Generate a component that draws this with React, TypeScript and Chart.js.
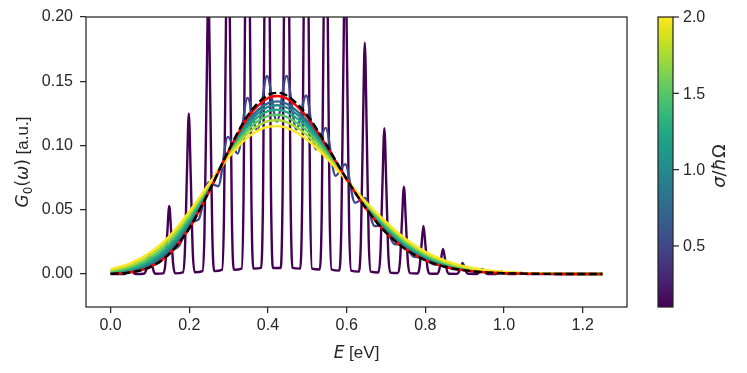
import React, { useEffect, useRef } from "react";
import { Chart, registerables } from "chart.js";

Chart.register(...registerables);

const FONT = '"Liberation Sans", Arial, "DejaVu Sans", sans-serif';
const MATH = '"DejaVu Sans", "Liberation Sans", sans-serif';
const INK = "#262626";

// sigma / (hbar Omega) of each spectrum, and colour bar range
const sigmaValues = [0.1, 0.5, 0.75, 1.0, 1.25, 1.5, 1.75, 2.0];
const sigmaRange = [0.1, 2.0];
const colorbarTicks = [0.5, 1.0, 1.5, 2.0];
const xTicks = [0, 0.2, 0.4, 0.6, 0.8, 1.0, 1.2];
const yTicks = [0, 0.05, 0.1, 0.15, 0.2];

// energy grid (eV) for the smooth curves
const energyGrid = [0, 0.05, 0.1, 0.15, 0.2, 0.25, 0.3, 0.35, 0.4, 0.425, 0.45, 0.5, 0.55, 0.6, 0.65, 0.7, 0.75, 0.8, 0.85, 0.9, 0.95, 1.0, 1.05, 1.1, 1.15, 1.2, 1.25];

// black dashed envelope
const envelopeDashed = [0.0001, 0.0012, 0.0053, 0.0158, 0.0356, 0.0641, 0.0963, 0.124, 0.1393, 0.141, 0.1385, 0.1234, 0.0998, 0.0738, 0.0506, 0.0322, 0.0192, 0.0107, 0.0056, 0.0028, 0.0013, 0.0006, 0.0003, 0.0001, 0, 0, 0];
// red envelope
const envelopeRed = [0.0001, 0.0012, 0.0053, 0.0158, 0.0356, 0.0639, 0.0956, 0.1224, 0.137, 0.1385, 0.1362, 0.1219, 0.099, 0.0736, 0.0506, 0.0322, 0.0192, 0.0107, 0.0056, 0.0028, 0.0013, 0.0006, 0.0003, 0.0001, 0, 0, 0];

// smooth broadened spectra on energyGrid
const g075 = [0.0004, 0.0021, 0.0072, 0.0186, 0.0383, 0.0655, 0.0951, 0.1197, 0.133, 0.1343, 0.1321, 0.1188, 0.0976, 0.0737, 0.0517, 0.0337, 0.0206, 0.0118, 0.0064, 0.0032, 0.0016, 0.0007, 0.0003, 0.0001, 0.0001, 0, 0];
const g100 = [0.0007, 0.0028, 0.0085, 0.0203, 0.04, 0.0664, 0.0947, 0.1178, 0.1301, 0.1313, 0.1292, 0.1166, 0.0966, 0.0737, 0.0524, 0.0348, 0.0216, 0.0126, 0.0069, 0.0036, 0.0018, 0.0008, 0.0003, 0.0001, 0.0001, 0, 0];
const g125 = [0.0011, 0.0038, 0.0102, 0.0223, 0.0419, 0.0675, 0.0941, 0.1155, 0.1268, 0.1278, 0.1257, 0.1141, 0.0952, 0.0737, 0.0532, 0.0362, 0.0229, 0.0136, 0.0076, 0.004, 0.002, 0.0009, 0.0004, 0.0002, 0.0001, 0, 0];
const g150 = [0.0017, 0.0051, 0.0122, 0.0247, 0.0441, 0.0685, 0.0932, 0.1128, 0.123, 0.1239, 0.1219, 0.1111, 0.0937, 0.0735, 0.0541, 0.0376, 0.0243, 0.0147, 0.0084, 0.0045, 0.0023, 0.0011, 0.0005, 0.0002, 0.0001, 0, 0];
const g175 = [0.0026, 0.0065, 0.0143, 0.0271, 0.0463, 0.0694, 0.0922, 0.1098, 0.1189, 0.1196, 0.1178, 0.1079, 0.0918, 0.0732, 0.055, 0.039, 0.0259, 0.0159, 0.0093, 0.0051, 0.0026, 0.0013, 0.0006, 0.0003, 0.0001, 0, 0];
const g200 = [0.0037, 0.0083, 0.0166, 0.0295, 0.0485, 0.07, 0.0908, 0.1067, 0.1146, 0.1151, 0.1135, 0.1045, 0.0899, 0.0727, 0.0556, 0.0405, 0.0272, 0.0172, 0.0104, 0.0059, 0.0032, 0.0016, 0.0007, 0.0003, 0.0001, 0, 0];

// sigma = 0.5: rippled spectrum (peaks and troughs)
const rippleEnergies = [0, 0.0249, 0.0497, 0.0746, 0.0994, 0.1243, 0.1491, 0.174, 0.1988, 0.2237, 0.2485, 0.2734, 0.2982, 0.3231, 0.3479, 0.3728, 0.3976, 0.4225, 0.4473, 0.4722, 0.497, 0.5219, 0.5467, 0.5716, 0.5964, 0.6213, 0.6461, 0.671, 0.6958, 0.7207, 0.7455, 0.7704, 0.7952, 0.8201, 0.8449, 0.8698, 0.8946, 0.9195, 0.9443, 0.9692, 0.994, 1.0189, 1.0437, 1.0686, 1.0934, 1.1183, 1.1431, 1.168, 1.1928, 1.2177, 1.2425, 1.25];
const rippleValues = [0.0002, 0.0006, 0.0014, 0.0028, 0.0061, 0.009, 0.0179, 0.0219, 0.0398, 0.0425, 0.0713, 0.0683, 0.1067, 0.0937, 0.137, 0.112, 0.1541, 0.1186, 0.1542, 0.1126, 0.1389, 0.097, 0.1137, 0.0764, 0.0854, 0.0554, 0.0592, 0.0373, 0.0382, 0.0233, 0.0229, 0.0136, 0.0129, 0.0075, 0.0069, 0.0039, 0.0034, 0.0019, 0.0016, 0.0009, 0.0007, 0.0004, 0.0003, 0.0002, 0.0001, 0.0001, 0, 0, 0, 0, 0, 0];

// sigma = 0.1: resolved vibronic lines
const lineEnergies = [
  0,
  0.0347, 0.0397, 0.0447, 0.0497, 0.0547, 0.0597, 0.0647,
  0.0844, 0.0894, 0.0944, 0.0994, 0.1044, 0.1094, 0.1144,
  0.1341, 0.1391, 0.1441, 0.1491, 0.1541, 0.1591, 0.1641,
  0.1838, 0.1888, 0.1938, 0.1988, 0.2038, 0.2088, 0.2138,
  0.2335, 0.2385, 0.2435, 0.2485, 0.2535, 0.2585, 0.2635,
  0.2832, 0.2882, 0.2932, 0.2982, 0.3032, 0.3082, 0.3132,
  0.3329, 0.3379, 0.3429, 0.3479, 0.3529, 0.3579, 0.3629,
  0.3826, 0.3876, 0.3926, 0.3976, 0.4026, 0.4076, 0.4126,
  0.4323, 0.4373, 0.4423, 0.4473, 0.4523, 0.4573, 0.4623,
  0.482, 0.487, 0.492, 0.497, 0.502, 0.507, 0.512,
  0.5317, 0.5367, 0.5417, 0.5467, 0.5517, 0.5567, 0.5617,
  0.5814, 0.5864, 0.5914, 0.5964, 0.6014, 0.6064, 0.6114,
  0.6311, 0.6361, 0.6411, 0.6461, 0.6511, 0.6561, 0.6611,
  0.6808, 0.6858, 0.6908, 0.6958, 0.7008, 0.7058, 0.7108,
  0.7305, 0.7355, 0.7405, 0.7455, 0.7505, 0.7555, 0.7605,
  0.7802, 0.7852, 0.7902, 0.7952, 0.8002, 0.8052, 0.8102,
  0.8299, 0.8349, 0.8399, 0.8449, 0.8499, 0.8549, 0.8599,
  0.8796, 0.8846, 0.8896, 0.8946, 0.8996, 0.9046, 0.9096,
  0.9293, 0.9343, 0.9393, 0.9443, 0.9493, 0.9543, 0.9593,
  0.979, 0.984, 0.989, 0.994, 0.999, 1.004, 1.009,
  1.0287, 1.0337, 1.0387, 1.0437, 1.0487, 1.0537, 1.0587,
  1.25,
];
const lineValues = [
  0,
  0, 0.0006, 0.0024, 0.004, 0.0024, 0.0006, 0,
  0.0002, 0.0022, 0.0093, 0.0155, 0.0093, 0.0022, 0.0002,
  0.0005, 0.0074, 0.0318, 0.053, 0.0318, 0.0074, 0.0005,
  0.0013, 0.0175, 0.075, 0.125, 0.075, 0.0175, 0.0013,
  0.0022, 0.0308, 0.132, 0.22, 0.132, 0.0308, 0.0022,
  0.0032, 0.0454, 0.1944, 0.324, 0.1944, 0.0454, 0.0032,
  0.0042, 0.0584, 0.2502, 0.417, 0.2502, 0.0584, 0.0042,
  0.0047, 0.0657, 0.2814, 0.469, 0.2814, 0.0657, 0.0047,
  0.0047, 0.0657, 0.2814, 0.469, 0.2814, 0.0657, 0.0047,
  0.0042, 0.0591, 0.2532, 0.422, 0.2532, 0.0591, 0.0042,
  0.0035, 0.0483, 0.207, 0.345, 0.207, 0.0483, 0.0035,
  0.0026, 0.0363, 0.1554, 0.259, 0.1554, 0.0363, 0.0026,
  0.0018, 0.0252, 0.108, 0.18, 0.108, 0.0252, 0.0018,
  0.0011, 0.0159, 0.0681, 0.1135, 0.0681, 0.0159, 0.0011,
  0.0007, 0.0095, 0.0408, 0.068, 0.0408, 0.0095, 0.0007,
  0.0004, 0.0052, 0.0224, 0.0373, 0.0224, 0.0052, 0.0004,
  0.0002, 0.0027, 0.0117, 0.0195, 0.0117, 0.0027, 0.0002,
  0.0001, 0.0012, 0.0052, 0.0086, 0.0052, 0.0012, 0.0001,
  0, 0.0006, 0.0024, 0.004, 0.0024, 0.0006, 0,
  0, 0.0003, 0.0011, 0.0018, 0.0011, 0.0003, 0,
  0, 0.0001, 0.0005, 0.0008, 0.0005, 0.0001, 0,
  0,
];

const VIRIDIS = ["#440154", "#471365", "#482475", "#463480", "#414487", "#3b528b", "#355f8d", "#2f6c8e", "#2a788e", "#25848e", "#21918c", "#1e9c89", "#22a884", "#2fb47c", "#44bf70", "#5ec962", "#7ad151", "#9bd93c", "#bddf26", "#dfe318", "#fde725"];

function hexToRgb(h: string) {
  const n = parseInt(h.slice(1), 16);
  return [(n >> 16) & 255, (n >> 8) & 255, n & 255];
}
function viridis(t: number) {
  const c = Math.min(1, Math.max(0, t)) * (VIRIDIS.length - 1);
  const i = Math.min(VIRIDIS.length - 2, Math.floor(c));
  const f = c - i;
  const a = hexToRgb(VIRIDIS[i]);
  const b = hexToRgb(VIRIDIS[i + 1]);
  const m = a.map((v, k) => Math.round(v + (b[k] - v) * f));
  return `rgb(${m[0]},${m[1]},${m[2]})`;
}
const sigmaColor = (s: number) => viridis((s - sigmaRange[0]) / (sigmaRange[1] - sigmaRange[0]));

const toPoints = (xs: number[], ys: number[]) => xs.map((x, i) => ({ x, y: ys[i] }));

const X_MIN = -0.0625;
const X_MAX = 1.3125;
const Y_MIN = -0.0257;
const Y_MAX = 0.2;

type Part = { t: string; f: string; dy?: number };
function drawParts(ctx: CanvasRenderingContext2D, parts: Part[], cx: number, baseY: number) {
  let total = 0;
  for (const p of parts) {
    ctx.font = p.f;
    total += ctx.measureText(p.t).width;
  }
  let x = cx - total / 2;
  for (const p of parts) {
    ctx.font = p.f;
    ctx.fillText(p.t, x, baseY + (p.dy || 0));
    x += ctx.measureText(p.t).width;
  }
}

const decorPlugin = {
  id: "decor",
  afterDraw(chart: any) {
    const { ctx, chartArea: a } = chart;
    ctx.save();
    ctx.strokeStyle = INK;
    ctx.lineWidth = 1.25;
    ctx.strokeRect(a.left, a.top, a.right - a.left, a.bottom - a.top);

    ctx.fillStyle = INK;
    ctx.textAlign = "left";
    ctx.textBaseline = "alphabetic";
    // x title
    drawParts(ctx, [
      { t: "E", f: `italic 17px ${MATH}` },
      { t: " [eV]", f: `17px ${FONT}` },
    ], (a.left + a.right) / 2, 358);

    // y title
    ctx.save();
    ctx.translate(22, (a.top + a.bottom) / 2);
    ctx.rotate(-Math.PI / 2);
    drawParts(ctx, [
      { t: "G", f: `italic 17px ${MATH}` },
      { t: "0", f: `12px ${MATH}`, dy: 3.5 },
      { t: "(", f: `17px ${MATH}` },
      { t: "ω", f: `italic 17px ${MATH}` },
      { t: ")", f: `17px ${MATH}` },
      { t: " [a.u.]", f: `17px ${FONT}` },
    ], 0, 6);
    ctx.restore();

    // colour bar
    const cbL = 658, cbR = 673, cbT = a.top, cbB = a.bottom;
    const grad = ctx.createLinearGradient(0, cbB, 0, cbT);
    VIRIDIS.forEach((c, i) => grad.addColorStop(i / (VIRIDIS.length - 1), c));
    ctx.fillStyle = grad;
    ctx.fillRect(cbL, cbT, cbR - cbL, cbB - cbT);
    ctx.strokeStyle = INK;
    ctx.lineWidth = 1.25;
    ctx.strokeRect(cbL, cbT, cbR - cbL, cbB - cbT);
    ctx.fillStyle = INK;
    ctx.font = `16px ${FONT}`;
    ctx.textBaseline = "middle";
    ctx.textAlign = "left";
    for (const v of colorbarTicks) {
      const y = cbB - ((v - sigmaRange[0]) / (sigmaRange[1] - sigmaRange[0])) * (cbB - cbT);
      ctx.beginPath();
      ctx.moveTo(cbR, y);
      ctx.lineTo(cbR + 6, y);
      ctx.stroke();
      ctx.fillText(v.toFixed(1), cbR + 10, y + 1);
    }
    // colour bar label
    ctx.save();
    ctx.translate(719, 166);
    ctx.rotate(-Math.PI / 2);
    ctx.textBaseline = "alphabetic";
    ctx.textAlign = "left";
    drawParts(ctx, [
      { t: "σ", f: `italic 18px ${MATH}` },
      { t: "/", f: `18px ${MATH}` },
      { t: "ħ", f: `italic 18px ${MATH}` },
      { t: "Ω", f: `18px ${MATH}` },
    ], 0, 6);
    ctx.restore();
    ctx.restore();
  },
};

export default function App() {
  const ref = useRef<HTMLCanvasElement | null>(null);
  useEffect(() => {
    const smooth = [g075, g100, g125, g150, g175, g200];
    const base = { pointRadius: 0, borderWidth: 2.4, fill: false, cubicInterpolationMode: "monotone", clip: 0 };
    const datasets: any[] = [];
    datasets.push({ ...base, data: toPoints(energyGrid, envelopeDashed), borderColor: "#000000", borderDash: [8, 3.5] });
    datasets.push({ ...base, data: toPoints(energyGrid, envelopeRed), borderColor: "#ff0000" });
    for (let i = smooth.length - 1; i >= 0; i--) {
      datasets.push({ ...base, data: toPoints(energyGrid, smooth[i]), borderColor: sigmaColor(sigmaValues[i + 2]) });
    }
    datasets.push({ ...base, data: toPoints(rippleEnergies, rippleValues), borderColor: sigmaColor(sigmaValues[1]) });
    datasets.push({ ...base, data: toPoints(lineEnergies, lineValues), borderColor: sigmaColor(sigmaValues[0]) });

    const tickFont = { family: FONT, size: 16 };
    const chart = new Chart(ref.current as HTMLCanvasElement, {
      type: "line",
      data: { datasets },
      options: {
        responsive: false,
        animation: false,
        devicePixelRatio: 1,
        events: [],
        layout: { padding: { top: 17, right: 120, left: 0, bottom: 0 } },
        elements: { line: { capBezierPoints: false } },
        plugins: { legend: { display: false }, tooltip: { enabled: false } },
        scales: {
          x: {
            type: "linear",
            min: X_MIN,
            max: X_MAX,
            afterBuildTicks: (s: any) => { s.ticks = xTicks.map((v) => ({ value: v })); },
            afterFit: (s: any) => { s.height = 66; },
            ticks: { callback: (v: any) => Number(v).toFixed(1), font: tickFont, color: INK, padding: 3, maxRotation: 0, autoSkip: false },
            grid: { drawOnChartArea: false, drawTicks: true, tickLength: 6, color: INK, lineWidth: 1.25 },
            border: { display: false },
          },
          y: {
            type: "linear",
            min: Y_MIN,
            max: Y_MAX,
            afterBuildTicks: (s: any) => { s.ticks = yTicks.map((v) => ({ value: v })); },
            afterFit: (s: any) => { s.width = 86; },
            ticks: { callback: (v: any) => Number(v).toFixed(2), font: tickFont, color: INK, padding: 7, autoSkip: false },
            grid: { drawOnChartArea: false, drawTicks: true, tickLength: 6, color: INK, lineWidth: 1.25 },
            border: { display: false },
          },
        },
      } as any,
      plugins: [decorPlugin],
    });
    return () => chart.destroy();
  }, []);
  return (
    <div style={{ position: "fixed", left: 0, top: 0, width: 747, height: 373, background: "#ffffff" }}>
      <canvas ref={ref} width={747} height={373} style={{ display: "block", width: 747, height: 373 }} />
    </div>
  );
}
